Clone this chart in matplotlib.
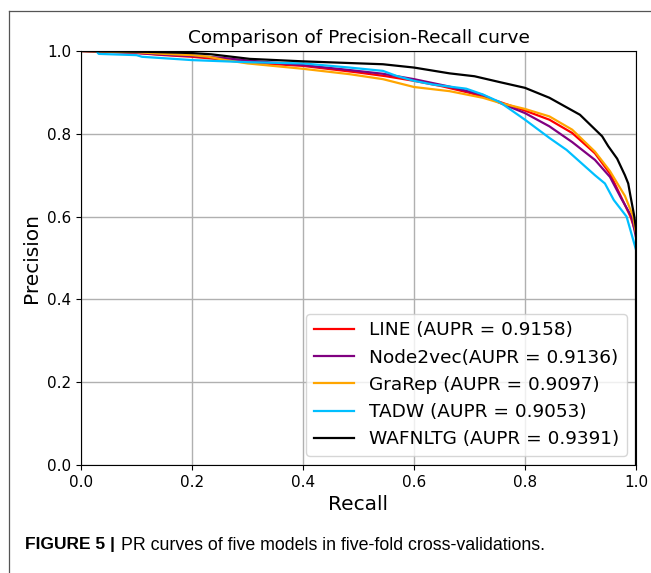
import matplotlib
matplotlib.use("Agg")
import matplotlib.pyplot as plt
from matplotlib.lines import Line2D

labels = ["LINE (AUPR = 0.9158)", "Node2vec(AUPR = 0.9136)", "GraRep (AUPR = 0.9097)",
          "TADW (AUPR = 0.9053)", "WAFNLTG (AUPR = 0.9391)"]
colors = ["red", "purple", "orange", "deepskyblue", "black"]

line_recall = [0.0, 0.05, 0.10, 0.15, 0.20, 0.25, 0.30, 0.35, 0.40, 0.45, 0.50, 0.55, 0.60, 0.65,
               0.70, 0.75, 0.80, 0.844, 0.885, 0.926, 0.953, 0.973, 0.99, 1.0]
line_precision = [1.0, 0.998, 0.995, 0.99, 0.986, 0.980, 0.973, 0.968, 0.964, 0.956, 0.948, 0.939,
                  0.928, 0.915, 0.899, 0.879, 0.856, 0.834, 0.802, 0.753, 0.704, 0.648, 0.60, 0.56]

n2v_recall = [0.0, 0.05, 0.094, 0.15, 0.20, 0.25, 0.30, 0.40, 0.484, 0.544, 0.60, 0.664, 0.724,
              0.754, 0.80, 0.844, 0.885, 0.926, 0.953, 0.973, 0.992, 1.0]
n2v_precision = [1.0, 0.998, 0.996, 0.991, 0.988, 0.984, 0.977, 0.966, 0.954, 0.945, 0.932, 0.914,
                 0.894, 0.875, 0.850, 0.818, 0.780, 0.737, 0.696, 0.645, 0.60, 0.55]

grarep_recall = [0.0, 0.10, 0.15, 0.20, 0.23, 0.26, 0.30, 0.40, 0.484, 0.544, 0.60, 0.664, 0.724,
                 0.754, 0.80, 0.844, 0.885, 0.926, 0.953, 0.98, 0.995, 1.0]
grarep_precision = [1.0, 0.997, 0.993, 0.99, 0.986, 0.978, 0.970, 0.957, 0.944, 0.932, 0.913, 0.903,
                    0.887, 0.875, 0.860, 0.842, 0.810, 0.757, 0.710, 0.650, 0.60, 0.56]

tadw_recall = [0.03, 0.032, 0.10, 0.11, 0.178, 0.20, 0.30, 0.40, 0.484, 0.544, 0.568, 0.60, 0.634,
               0.694, 0.724, 0.754, 0.80, 0.844, 0.875, 0.926, 0.944, 0.96, 0.983, 1.0]
tadw_precision = [0.996, 0.993, 0.990, 0.986, 0.980, 0.978, 0.973, 0.970, 0.960, 0.952, 0.940, 0.928,
                  0.919, 0.909, 0.895, 0.877, 0.834, 0.790, 0.761, 0.700, 0.68, 0.64, 0.60, 0.52]

waf_recall = [0.0, 0.12, 0.20, 0.235, 0.304, 0.40, 0.544, 0.60, 0.664, 0.709, 0.754, 0.80, 0.844,
              0.899, 0.939, 0.95, 0.966, 0.98, 0.986, 0.99, 0.997, 1.0, 1.0]
waf_precision = [1.0, 0.998, 0.995, 0.992, 0.981, 0.975, 0.968, 0.960, 0.946, 0.939, 0.925, 0.911,
                 0.887, 0.846, 0.794, 0.77, 0.74, 0.70, 0.68, 0.65, 0.60, 0.57, 0.0]

series = [(line_recall, line_precision), (n2v_recall, n2v_precision), (grarep_recall, grarep_precision),
          (tadw_recall, tadw_precision), (waf_recall, waf_precision)]

fig = plt.figure(figsize=(6.51, 5.73), dpi=100)
ax = fig.add_axes([81/651, 1-465/573, 555/651, 414/573])
for (r, p), lab, c in zip(series, labels, colors):
    ax.plot(r, p, color=c, lw=1.6, label=lab)

ax.set_xlim(0, 1)
ax.set_ylim(0, 1)
ax.grid(True, color="#b0b0b0", lw=1)
ax.set_axisbelow(True)
ax.tick_params(labelsize=11)
ax.set_xlabel("Recall", fontsize=14.5)
ax.set_ylabel("Precision", fontsize=14.5)
ax.set_title("Comparison of Precision-Recall curve", fontsize=13.3)
ax.legend(loc="lower right", fontsize=13.3, handlelength=2.2, labelspacing=0.5)

fig.add_artist(Line2D([9/651, 1], [1-11/573, 1-11/573], color="#555555", lw=0.9))
fig.add_artist(Line2D([9/651, 9/651], [0, 1-11/573], color="#555555", lw=0.9))

fig.text(25/651, 1-545/573, "FIGURE 5 |", fontsize=12.5, fontweight="bold",
         family="Liberation Sans", va="center", ha="left")
fig.text(121/651, 1-545/573, "PR curves of five models in five-fold cross-validations.",
         fontsize=12.8, family="Liberation Sans", va="center", ha="left")

fig.savefig("out.png", dpi=100)
